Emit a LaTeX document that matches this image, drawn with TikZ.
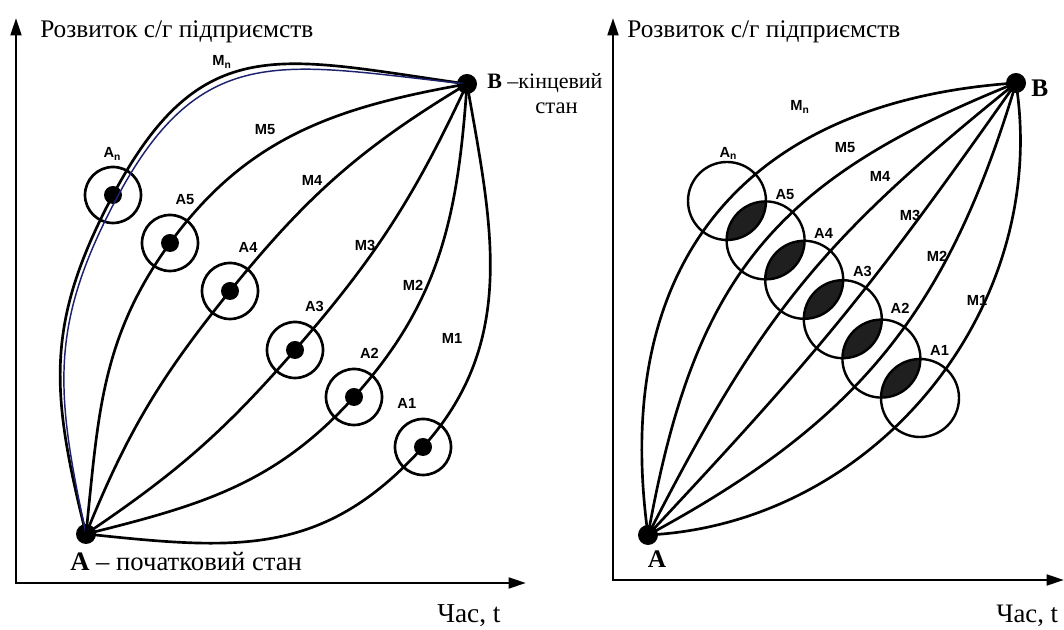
\documentclass[tikz,border=0pt]{standalone}
\usepackage{fontspec}
\setmainfont{Liberation Serif}
\newfontfamily\labfont{Liberation Sans}
\usetikzlibrary{arrows.meta}
\definecolor{navyline}{RGB}{30,34,110}

\tikzset{
  axis/.style={line width=2.1pt, {Triangle[length=13pt,width=8pt]}-{Triangle[length=13pt,width=8pt]}},
  curve/.style={line width=2pt, black},
  dot/.style={circle, fill=black, inner sep=0pt, minimum size=15pt},
  ring/.style={circle, draw=black, line width=2pt, inner sep=0pt, minimum size=42pt,
    path picture={\fill[black] (path picture bounding box.center) circle (6.75pt);}},
  bigring/.style={circle, draw=black, line width=1.8pt, inner sep=0pt, minimum size=58.5pt},
  lens/.style={fill=black!88},
  lbl/.style={text=black, inner sep=1pt, font=\labfont\bfseries\fontsize{11}{13}\selectfont},
  txt/.style={inner sep=0pt, font=\fontsize{19}{22}\selectfont},
  txtb/.style={inner sep=0pt, font=\fontsize{16.5}{20}\selectfont},
}

\begin{document}
\begin{tikzpicture}[x=0.75pt,y=0.75pt]
  \useasboundingbox (0,0) rectangle (1064,630);

  % ---- left panel ----
  \coordinate (oL) at (16,47);
  \coordinate (yL) at (16,612);
  \coordinate (xL) at (526,47);
  \draw[axis] (yL) -- (oL) -- (xL);
  \node[dot] (AL) at (86,96) {};
  \node[dot] (BL) at (467,546) {};
  \foreach \i/\lab/\x/\y/\ang/\d in {n/{A\textsubscript{n}}/113/435/91/3, 5/A5/170/387/84/6, 4/A4/230/339/79/6,
      3/A3/295/280/77/6, 2/A2/354/233/83/6, 1/A1/423/183/98/6}
    \node[ring, label={[lbl,label distance=\d pt]\ang:\lab}] (aL\i) at (\x,\y) {};
  % M_n drawn twice
  \coordinate (nIn) at (116.5,431.5);
  \draw[curve] (AL.center) to[out=104,in=242,looseness=1.1] (aLn.center) to[out=62,in=172,looseness=1.3] (BL.center);
  \draw[line width=1.1pt, navyline] (AL.center) to[out=102,in=242,looseness=1.1] (nIn) to[out=62,in=174,looseness=1.27] (BL.center);
  \foreach \i/\o/\h/\e/\l in {5/84/54/190/1, 4/68/51/211/1, 3/34/49/245/1, 2/14/48/266/1, 1/-6/48/280/1.1}
    \draw[curve] (AL.center) to[out=\o,in=\h+180,looseness=\l] (aL\i.center) to[out=\h,in=\e] (BL.center);
  \foreach \lab/\x/\y [count=\k] in {M\textsubscript{n}/222/568, M5/265/500, M4/312/450, M3/365/385, M2/413/345, M1/452/292}
    \node[lbl] (mL\k) at (\x,\y) {\lab};

  \node[txt, anchor=base west] (titleL) at (40,592) {Розвиток с/г підприємств};
  \node[txt, anchor=base west, font=\fontsize{20}{23}\selectfont] (labAL) at (70,59) {\textbf{A} – початковий стан};
  \node[txtb, anchor=base west] (labBL) at (487,541) {\textbf{B} –кінцевий};
  \node[txtb, anchor=base west, font=\fontsize{17}{20}\selectfont] (labBL2) at (535,516) {стан};
  \node[txt, anchor=base west, font=\fontsize{20.5}{23}\selectfont] (timeL) at (437,7) {Час, t};

  % ---- right panel ----
  \coordinate (oR) at (613,50);
  \coordinate (yR) at (613,612);
  \coordinate (xR) at (1064,50);
  \draw[axis] (yR) -- (oR) -- (xR);
  \node[dot] (AR) at (648,95) {};
  \node[dot] (BR) at (1016,547) {};
  \foreach \b/\l in {47/1.2, 29/1.15, 12/1.1, -4/1.1, -22.5/1.05, -48/1.0}
    \draw[curve] (AR.center) to[bend left=\b, looseness=\l] (BR.center);
  % dark overlaps of neighbouring circles
  \foreach \k in {0,...,4} {
    \begin{scope}
      \clip ({727+38.6*\k},{429-39.4*\k}) circle (39);
      \fill[lens] ({727+38.6*(\k+1)},{429-39.4*(\k+1)}) circle (39);
    \end{scope}
  }
  \foreach \i/\lab/\ang/\d [count=\k from 0] in {n/{A\textsubscript{n}}/88/0, 5/A5/78/0, 4/A4/78/0, 3/A3/78/1, 2/A2/80/3, 1/A1/78/1}
    \node[bigring, label={[lbl,label distance=\d pt]\ang:\lab}] (aR\i) at ({727+38.6*\k},{429-39.4*\k}) {};
  \foreach \lab/\x/\y [count=\k] in {M\textsubscript{n}/800/523, M5/845/482, M4/880/454, M3/910/415, M2/937/374, M1/977/330}
    \node[lbl] (mR\k) at (\x,\y) {\lab};

  \node[txt, anchor=base west] (titleR) at (627,592) {Розвиток с/г підприємств};
  \node[txt, anchor=base] (labAR) at (657,62) {\textbf{A}};
  \node[txt, anchor=base west] (labBR) at (1031,533) {\textbf{B}};
  \node[txt, anchor=base west, font=\fontsize{20}{23}\selectfont] (timeR) at (996,7) {Час, t};
\end{tikzpicture}
\end{document}
